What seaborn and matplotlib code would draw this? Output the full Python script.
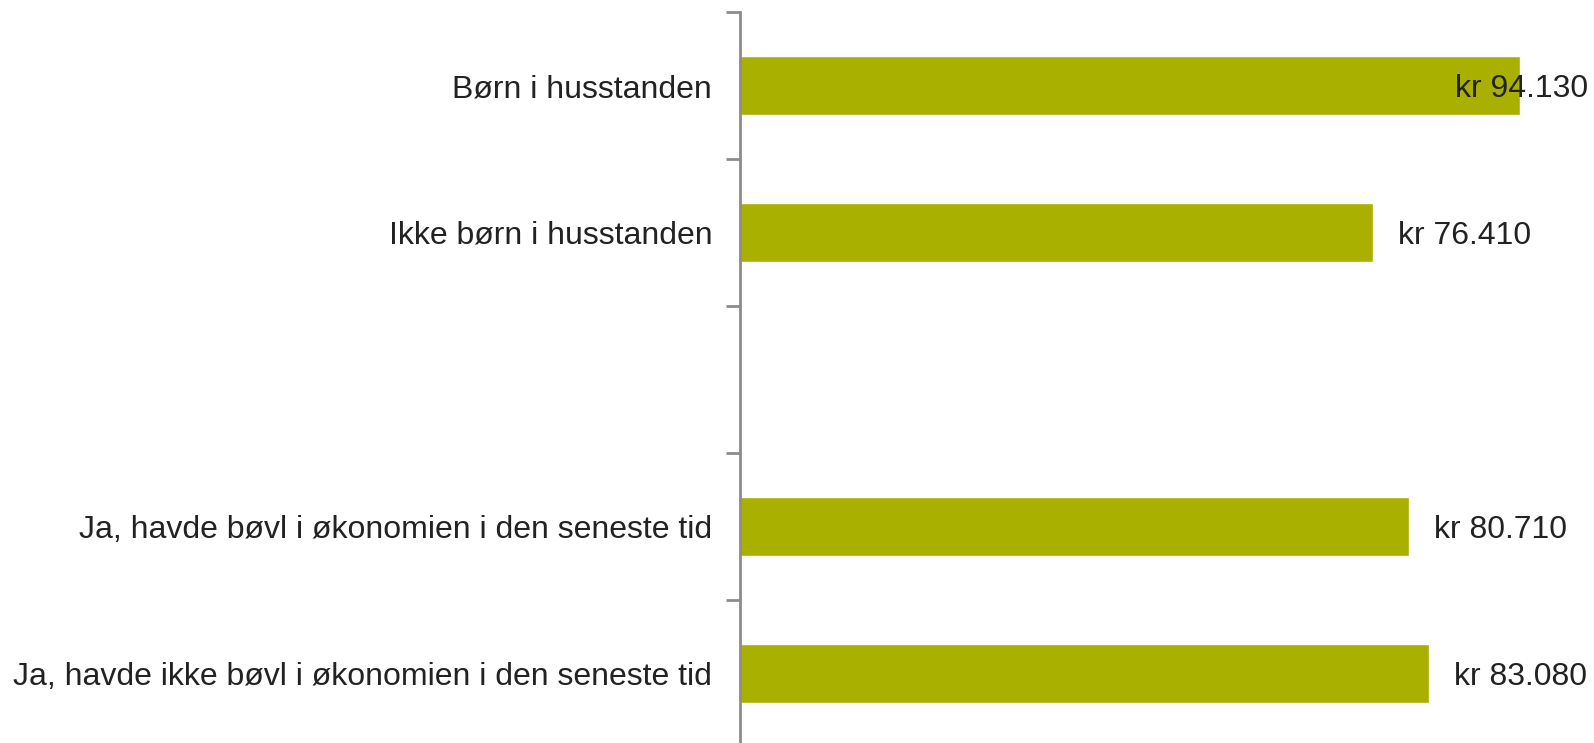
import numpy as np
import pandas as pd
import matplotlib
matplotlib.use("Agg")
import matplotlib.pyplot as plt
import seaborn as sb

# data (top to bottom), "" is the empty gap row
categories = ["Børn i husstanden", "Ikke børn i husstanden", "",
              "Ja, havde bøvl i økonomien i den seneste tid",
              "Ja, havde ikke bøvl i økonomien i den seneste tid"]
values = [94130, 76410, np.nan, 80710, 83080]
value_labels = ["kr 94.130", "kr 76.410", "", "kr 80.710", "kr 83.080"]

df = pd.DataFrame({"kategori": categories, "kr": values}).dropna()

sb.set_style("white")
plt.rcParams["font.family"] = ["Liberation Sans", "DejaVu Sans"]

fig = plt.figure(figsize=(15.94, 7.43), dpi=100)
ax = fig.add_axes([740 / 1594, -4 / 743, 829 / 1594, 735 / 743])

sb.barplot(data=df, y="kategori", x="kr", order=categories, orient="h",
           color="#A9B000", width=0.4, saturation=1, ax=ax, errorbar=None)

ax.set_xlim(0, 100000)
ax.set_ylim(len(categories) - 0.5, -0.5)
ax.set_xlabel("")
ax.set_ylabel("")
ax.set_xticks([])

# tick labels at centres, tick marks at the boundaries
ax.set_yticks(range(len(categories)))
ax.set_yticklabels(categories, fontsize=23, color="#222222")
ax.tick_params(axis="y", which="major", length=0, pad=20)
for lbl in ax.get_yticklabels():
    lbl.set_verticalalignment("center_baseline")
ax.set_yticks(np.arange(-0.5, len(categories)), minor=True)
ax.tick_params(axis="y", which="minor", length=10, width=2, color="#8c8c8c",
               direction="out", left=True)

for s in ["top", "right", "bottom"]:
    ax.spines[s].set_visible(False)
ax.spines["left"].set_color("#8c8c8c")
ax.spines["left"].set_linewidth(2)

# data labels, kept inside the figure
for i, (v, lab) in enumerate(zip(values, value_labels)):
    if not lab:
        continue
    t = ax.annotate(lab, xy=(v, i), xytext=(18, 0), textcoords="offset points",
                    va="center_baseline", ha="left", fontsize=23, color="#222222",
                    annotation_clip=False)
    fig.canvas.draw()
    bb = t.get_window_extent()
    if bb.x1 > 1588:
        t.set_position((18 - (bb.x1 - 1588) * 72 / 100, 0))

fig.savefig("out.png", dpi=100)
